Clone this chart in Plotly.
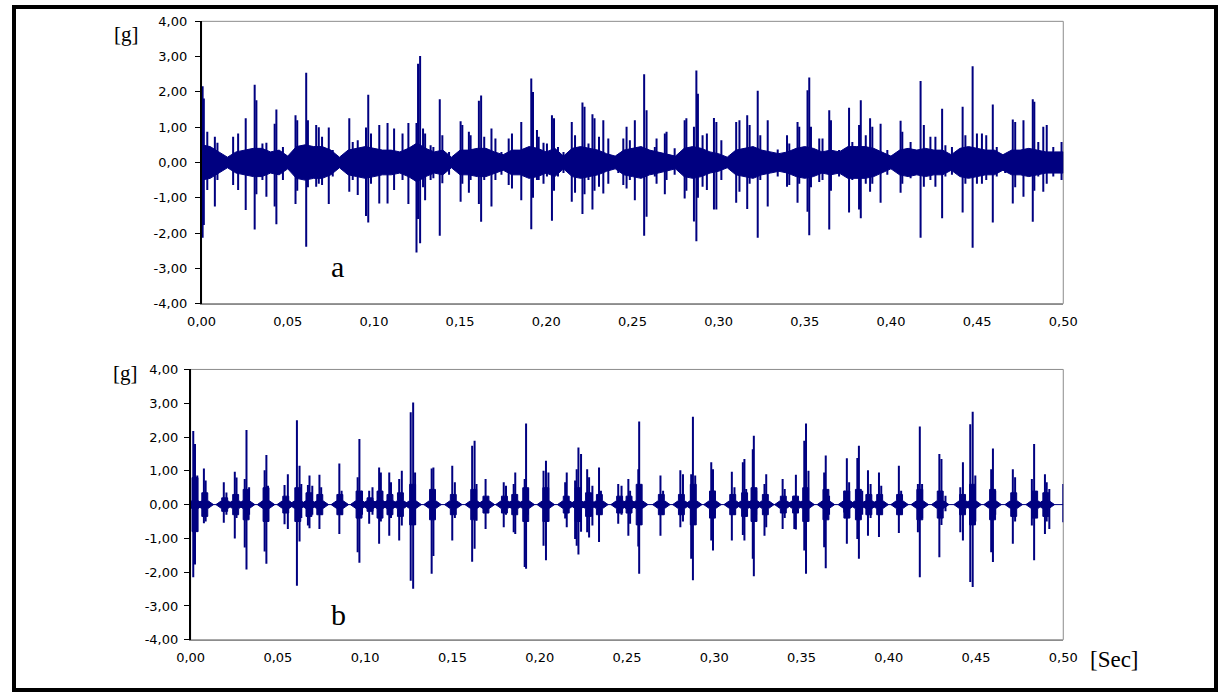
import plotly.graph_objects as go

W, H = 1230, 698
# the capture shows the page shrunk by about 2 % around its centre; positions
# measured on the reference are mapped back through that factor
S, CX, CY = 0.981, 615.0, 349.0

# ---------------- data ----------------
x_ticks = [0.0, 0.05, 0.10, 0.15, 0.20, 0.25, 0.30, 0.35, 0.40, 0.45, 0.50]
x_tick_text = ["0,00", "0,05", "0,10", "0,15", "0,20", "0,25", "0,30", "0,35", "0,40", "0,45", "0,50"]
y_ticks = [-4, -3, -2, -1, 0, 1, 2, 3, 4]
y_tick_text = ["-4,00", "-3,00", "-2,00", "-1,00", "0,00", "1,00", "2,00", "3,00", "4,00"]

# signal a : dense noise envelope (amplitude, g) sampled every 5 ms
a_env_t = [0.000, 0.005, 0.010, 0.015, 0.020, 0.025, 0.030, 0.035, 0.040, 0.045,
           0.050, 0.055, 0.060, 0.065, 0.070, 0.075, 0.080, 0.085, 0.090, 0.095,
           0.100, 0.105, 0.110, 0.115, 0.120, 0.125, 0.130, 0.135, 0.140, 0.145,
           0.150, 0.155, 0.160, 0.165, 0.170, 0.175, 0.180, 0.185, 0.190, 0.195,
           0.200, 0.205, 0.210, 0.215, 0.220, 0.225, 0.230, 0.235, 0.240, 0.245,
           0.250, 0.255, 0.260, 0.265, 0.270, 0.275, 0.280, 0.285, 0.290, 0.295,
           0.300, 0.305, 0.310, 0.315, 0.320, 0.325, 0.330, 0.335, 0.340, 0.345,
           0.350, 0.355, 0.360, 0.365, 0.370, 0.375, 0.380, 0.385, 0.390, 0.395,
           0.400, 0.405, 0.410, 0.415, 0.420, 0.425, 0.430, 0.435, 0.440, 0.445,
           0.450, 0.455, 0.460, 0.465, 0.470, 0.475, 0.480, 0.485, 0.490, 0.495, 0.500]
a_env_amp = [0.50, 0.45, 0.30, 0.15, 0.30, 0.35, 0.40, 0.40, 0.30, 0.35,
             0.18, 0.45, 0.50, 0.45, 0.45, 0.35, 0.15, 0.35, 0.40, 0.45,
             0.40, 0.35, 0.35, 0.30, 0.40, 0.55, 0.40, 0.30, 0.35, 0.15,
             0.35, 0.35, 0.40, 0.40, 0.30, 0.22, 0.35, 0.35, 0.45, 0.40,
             0.30, 0.40, 0.18, 0.40, 0.45, 0.40, 0.35, 0.25, 0.18, 0.35,
             0.40, 0.45, 0.35, 0.30, 0.25, 0.18, 0.40, 0.45, 0.40, 0.30,
             0.25, 0.15, 0.35, 0.40, 0.45, 0.35, 0.30, 0.25, 0.30, 0.40,
             0.45, 0.40, 0.30, 0.35, 0.30, 0.45, 0.45, 0.45, 0.40, 0.30,
             0.18, 0.35, 0.40, 0.35, 0.40, 0.35, 0.35, 0.22, 0.40, 0.45,
             0.40, 0.35, 0.35, 0.22, 0.35, 0.35, 0.40, 0.35, 0.30, 0.30, 0.30]

# signal a : individual spikes (time s, positive peak g, negative peak g)
a_spike_t = [0.0006, 0.0013, 0.0033, 0.0077, 0.0092, 0.0183, 0.0212, 0.0256, 0.0308, 0.0318,
             0.0353, 0.0376, 0.0424, 0.0434, 0.0472, 0.0545, 0.0555, 0.0607, 0.0617, 0.0665,
             0.0680, 0.0699, 0.0738, 0.0761, 0.0857, 0.0877, 0.0906, 0.0925, 0.0954, 0.0967,
             0.0983, 0.1031, 0.1079, 0.1117, 0.1166, 0.1200, 0.1247, 0.1256, 0.1268, 0.1285,
             0.1297, 0.1329, 0.1345, 0.1382, 0.1397, 0.1436, 0.1503, 0.1513, 0.1551, 0.1561,
             0.1609, 0.1622, 0.1640, 0.1682, 0.1705, 0.1740, 0.1782, 0.1801, 0.1830, 0.1855,
             0.1913, 0.1923, 0.1946, 0.1956, 0.1984, 0.2004, 0.2033, 0.2045, 0.2068, 0.2100,
             0.2148, 0.2167, 0.2210, 0.2222, 0.2245, 0.2268, 0.2280, 0.2306, 0.2331, 0.2360,
             0.2418, 0.2447, 0.2466, 0.2485, 0.2514, 0.2568, 0.2582, 0.2630, 0.2640, 0.2688,
             0.2698, 0.2745, 0.2803, 0.2813, 0.2857, 0.2871, 0.2880, 0.2907, 0.2932, 0.2973,
             0.2987, 0.3016, 0.3102, 0.3121, 0.3166, 0.3180, 0.3227, 0.3242, 0.3285, 0.3343,
             0.3397, 0.3410, 0.3458, 0.3468, 0.3516, 0.3526, 0.3536, 0.3584, 0.3603, 0.3642,
             0.3652, 0.3699, 0.3757, 0.3776, 0.3815, 0.3825, 0.3854, 0.3879, 0.3892, 0.3940,
             0.3979, 0.4056, 0.4066, 0.4114, 0.4172, 0.4191, 0.4229, 0.4258, 0.4297, 0.4316,
             0.4354, 0.4416, 0.4432, 0.4474, 0.4499, 0.4528, 0.4553, 0.4591, 0.4614, 0.4663,
             0.4707, 0.4721, 0.4769, 0.4823, 0.4832, 0.4855, 0.4884, 0.4904, 0.4942, 0.4990]
a_spike_hi = [2.16, 1.81, 0.87, 0.73, 0.56, 0.73, 0.82, 1.25, 2.20, 1.76,
              0.54, 0.56, 1.10, 1.50, 0.44, 1.34, 1.20, 2.54, 1.20, 1.06,
              1.00, 0.73, 0.99, 0.35, 1.25, 0.58, 0.63, 0.35, 0.99, 1.92,
              0.82, 1.06, 1.12, 0.96, 0.82, 1.12, 1.12, 2.80, 3.02, 0.96,
              0.82, 0.49, 0.44, 1.79, 0.77, 0.30, 1.17, 1.06, 0.87, 0.77,
              1.75, 1.90, 0.73, 0.96, 0.68, 0.30, 0.68, 0.82, 0.25, 1.15,
              2.38, 2.00, 0.92, 0.73, 0.56, 0.54, 1.34, 1.25, 0.44, 0.30,
              1.15, 0.77, 1.70, 1.58, 0.54, 1.37, 1.25, 0.73, 1.20, 0.68,
              0.20, 0.68, 1.01, 0.63, 1.20, 2.50, 1.48, 0.44, 0.68, 0.82,
              0.87, 0.40, 1.20, 1.25, 1.01, 2.61, 1.95, 0.77, 0.82, 1.26,
              1.15, 0.63, 1.15, 1.20, 1.34, 1.06, 2.03, 0.77, 1.20, 0.37,
              0.77, 0.54, 1.15, 1.01, 2.05, 2.41, 1.01, 0.68, 0.68, 1.48,
              1.20, 0.35, 1.55, 0.58, 1.06, 1.76, 0.77, 1.25, 1.01, 1.10,
              0.35, 1.18, 0.87, 0.58, 2.31, 1.06, 0.73, 0.73, 1.52, 0.49,
              0.44, 1.58, 0.77, 2.73, 0.82, 0.82, 0.77, 1.64, 0.44, 0.20,
              1.22, 1.15, 1.20, 1.79, 1.72, 0.58, 1.01, 1.06, 0.44, 0.58]
a_spike_lo = [-2.13, -1.77, -0.78, -1.25, -0.50, -0.64, -0.78, -1.35, -1.90, -0.90,
              -0.50, -0.97, -1.25, -1.75, -0.50, -1.18, -0.80, -2.39, -0.70, -0.69,
              -0.60, -0.64, -1.18, -0.40, -0.83, -0.50, -0.92, -0.40, -1.52, -1.70,
              -0.60, -1.16, -1.16, -0.78, -0.50, -1.18, -2.55, -1.60, -2.29, -0.70,
              -1.07, -0.50, -0.45, -2.08, -0.59, -0.35, -1.11, -0.60, -0.86, -0.50,
              -1.18, -1.68, -0.50, -1.25, -0.50, -0.35, -0.64, -0.74, -0.30, -1.07,
              -1.89, -1.00, -0.50, -0.50, -0.60, -0.40, -1.65, -0.80, -0.40, -0.30,
              -1.11, -0.86, -1.46, -0.90, -0.50, -1.33, -0.80, -0.69, -0.88, -0.60,
              -0.30, -0.64, -0.74, -0.50, -1.07, -2.08, -1.54, -0.40, -0.60, -0.90,
              -0.50, -0.35, -1.02, -0.80, -1.67, -2.23, -1.00, -0.69, -0.78, -1.33,
              -1.33, -0.50, -1.14, -0.83, -1.32, -0.60, -2.13, -0.50, -1.25, -0.40,
              -0.69, -0.64, -1.14, -0.60, -1.40, -2.06, -0.70, -0.55, -0.50, -1.90,
              -0.80, -0.40, -1.42, -0.50, -1.33, -1.58, -0.60, -0.83, -0.60, -1.14,
              -0.35, -0.86, -0.60, -0.45, -2.13, -0.69, -0.50, -0.69, -1.58, -0.40,
              -0.35, -1.42, -0.60, -2.42, -0.60, -0.60, -0.50, -1.70, -0.40, -0.30,
              -1.16, -0.70, -0.97, -1.68, -0.80, -0.40, -0.83, -0.60, -0.40, -0.50]

# signal b : burst centres and amplitude of each burst's dense core (g)
b_burst_t = [0.0025, 0.0081, 0.0195, 0.0258, 0.0318, 0.0432, 0.0545, 0.0614, 0.0678, 0.0740,
             0.0855, 0.0965, 0.1028, 0.1085, 0.1142, 0.1202, 0.1272, 0.1386, 0.1505, 0.1622,
             0.1692, 0.1798, 0.1857, 0.1920, 0.2035, 0.2152, 0.2220, 0.2280, 0.2342, 0.2458,
             0.2512, 0.2570, 0.2697, 0.2812, 0.2880, 0.2990, 0.3106, 0.3174, 0.3228, 0.3293,
             0.3396, 0.3466, 0.3524, 0.3640, 0.3760, 0.3826, 0.3886, 0.3948, 0.4062, 0.4178,
             0.4295, 0.4423, 0.4480, 0.4595, 0.4716, 0.4836, 0.4900]
b_burst_amp = [0.80, 0.35, 0.20, 0.30, 0.45, 0.50, 0.25, 0.50, 0.35, 0.30,
               0.30, 0.40, 0.20, 0.40, 0.30, 0.35, 0.60, 0.45, 0.30, 0.45,
               0.25, 0.25, 0.30, 0.50, 0.50, 0.25, 0.50, 0.35, 0.30, 0.25,
               0.25, 0.60, 0.30, 0.30, 0.60, 0.40, 0.30, 0.35, 0.50, 0.30,
               0.25, 0.25, 0.50, 0.45, 0.40, 0.45, 0.30, 0.30, 0.30, 0.45,
               0.40, 0.30, 0.60, 0.45, 0.35, 0.40, 0.35]

# signal b : individual spikes (time s, positive peak g, negative peak g)
b_spike_t = [0.0015, 0.0025, 0.0038, 0.0076, 0.0086, 0.0190, 0.0205, 0.0253, 0.0263, 0.0310,
             0.0320, 0.0335, 0.0424, 0.0434, 0.0443, 0.0538, 0.0557, 0.0609, 0.0624, 0.0634,
             0.0672, 0.0681, 0.0697, 0.0738, 0.0748, 0.0852, 0.0865, 0.0957, 0.0967, 0.0982,
             0.1023, 0.1042, 0.1080, 0.1090, 0.1138, 0.1148, 0.1195, 0.1210, 0.1261, 0.1275,
             0.1286, 0.1381, 0.1391, 0.1499, 0.1514, 0.1613, 0.1627, 0.1638, 0.1690, 0.1794,
             0.1807, 0.1851, 0.1860, 0.1914, 0.1922, 0.1933, 0.2022, 0.2036, 0.2050, 0.2146,
             0.2155, 0.2203, 0.2212, 0.2222, 0.2237, 0.2272, 0.2283, 0.2302, 0.2340, 0.2351,
             0.2450, 0.2469, 0.2508, 0.2518, 0.2565, 0.2570, 0.2580, 0.2692, 0.2707, 0.2806,
             0.2821, 0.2868, 0.2878, 0.2891, 0.2983, 0.2993, 0.3003, 0.3101, 0.3116, 0.3164,
             0.3173, 0.3183, 0.3221, 0.3227, 0.3240, 0.3288, 0.3298, 0.3392, 0.3404, 0.3459,
             0.3468, 0.3516, 0.3526, 0.3540, 0.3630, 0.3639, 0.3658, 0.3745, 0.3760, 0.3773,
             0.3820, 0.3829, 0.3848, 0.3881, 0.3896, 0.3944, 0.3957, 0.4058, 0.4071, 0.4167,
             0.4178, 0.4191, 0.4290, 0.4302, 0.4325, 0.4410, 0.4425, 0.4467, 0.4481, 0.4496,
             0.4587, 0.4597, 0.4610, 0.4711, 0.4724, 0.4820, 0.4833, 0.4845, 0.4895, 0.4905,
             0.4920, 0.5000]
b_spike_hi = [2.18, 1.79, 0.86, 1.07, 0.71, 0.66, 0.36, 0.97, 0.80, 0.76,
              2.21, 0.51, 1.02, 1.47, 0.56, 0.58, 0.90, 2.50, 1.15, 0.61,
              0.58, 0.86, 0.56, 0.88, 0.51, 1.22, 0.41, 0.81, 1.94, 0.41,
              0.41, 0.51, 1.10, 0.95, 0.95, 0.66, 0.76, 1.00, 2.73, 3.02,
              0.95, 1.07, 1.10, 1.15, 0.66, 1.74, 1.89, 0.61, 0.76, 0.66,
              0.56, 0.61, 0.95, 0.76, 2.40, 0.46, 1.00, 1.30, 0.95, 0.66,
              0.95, 0.71, 1.05, 1.69, 1.50, 1.05, 0.81, 0.56, 1.10, 0.41,
              0.61, 0.56, 0.76, 0.41, 1.05, 2.46, 0.41, 0.86, 0.41, 1.02,
              0.90, 0.90, 2.60, 0.86, 1.25, 1.05, 0.41, 0.97, 0.51, 1.25,
              1.35, 0.46, 1.64, 2.04, 0.41, 0.61, 0.90, 0.76, 0.46, 0.26,
              0.88, 1.89, 2.40, 1.00, 0.95, 1.45, 0.26, 0.41, 1.37, 0.66,
              1.38, 1.74, 0.41, 1.02, 0.61, 0.95, 0.56, 1.15, 0.41, 0.61,
              2.31, 0.61, 1.50, 1.35, 0.26, 0.51, 1.25, 2.38, 2.75, 0.86,
              1.05, 1.66, 0.41, 1.05, 0.81, 0.76, 1.79, 0.36, 0.90, 0.66,
              0.46, 0.61]
b_spike_lo = [-2.15, -1.77, -0.81, -0.55, -0.50, -0.54, -0.30, -1.00, -0.40, -1.27,
              -1.92, -0.30, -1.39, -1.75, -0.40, -0.58, -0.72, -2.40, -1.09, -0.40,
              -0.62, -0.70, -0.30, -0.72, -0.30, -0.87, -0.30, -1.41, -1.72, -0.30,
              -0.57, -0.30, -1.16, -0.50, -0.92, -0.40, -1.06, -0.62, -2.25, -2.49,
              -0.60, -2.05, -1.52, -1.06, -0.40, -1.69, -1.31, -0.48, -0.72, -0.67,
              -0.30, -0.82, -0.87, -1.85, -1.90, -0.30, -1.22, -1.65, -0.50, -0.41,
              -0.67, -1.02, -1.22, -1.48, -0.80, -0.82, -0.97, -0.62, -1.11, -0.30,
              -0.57, -0.30, -0.92, -0.57, -1.24, -2.05, -0.30, -0.92, -0.30, -0.67,
              -0.50, -1.60, -2.24, -0.50, -1.06, -1.36, -0.30, -1.06, -0.30, -0.90,
              -1.06, -0.30, -1.60, -2.12, -0.30, -0.92, -0.67, -0.72, -0.40, -0.72,
              -0.74, -1.36, -2.05, -0.50, -1.26, -1.88, -0.30, -0.23, -1.16, -0.40,
              -1.02, -1.60, -0.30, -0.92, -0.40, -0.96, -0.30, -0.84, -0.30, -0.82,
              -2.15, -0.40, -1.56, -0.60, -0.20, -0.82, -1.06, -2.29, -2.44, -0.50,
              -1.41, -1.70, -0.30, -1.16, -0.50, -0.62, -1.65, -0.30, -0.87, -0.50,
              -0.72, -0.52]

# ---------------- styling constants ----------------
NAVY = "#000080"
TICK_FONT = dict(family="DejaVu Sans, Verdana, sans-serif", size=13, color="#000000")
SERIF = "Liberation Serif, Times New Roman, serif"
CORE_OUT = 0.0050   # half-width of the low tail of a burst core, s
CORE_IN = 0.0017    # half-width of the tall part of a burst core, s
CORE_TAIL = 0.12    # height of the low tail, g


def fx(r):
    """reference pixel column -> paper fraction"""
    return (CX + (r - CX) / S) / W


def fy(r):
    """reference pixel row -> paper fraction"""
    return 1 - (CY + (r - CY) / S) / H


def segments(ts, his, los):
    xs, ys = [], []
    for t, hi, lo in zip(ts, his, los):
        xs += [t, t, None]
        ys += [lo, hi, None]
    return xs, ys


fig = go.Figure()

# ---- signal a ----
band_x = a_env_t + a_env_t[::-1]
band_y = a_env_amp + [-v for v in a_env_amp[::-1]]
fig.add_trace(go.Scatter(x=band_x, y=band_y, fill="toself", fillcolor=NAVY,
                         line=dict(color=NAVY, width=1), mode="lines",
                         hoverinfo="skip", showlegend=False, xaxis="x", yaxis="y"))
sx, sy = segments(a_spike_t, a_spike_hi, a_spike_lo)
fig.add_trace(go.Scatter(x=sx, y=sy, mode="lines", line=dict(color=NAVY, width=2),
                         showlegend=False, xaxis="x", yaxis="y"))

# ---- signal b ----
fig.add_trace(go.Scatter(x=[x_ticks[0], x_ticks[-1]], y=[0, 0], mode="lines",
                         line=dict(color=NAVY, width=1), showlegend=False,
                         xaxis="x2", yaxis="y2"))
cx, cy = [], []
for t, a in zip(b_burst_t, b_burst_amp):
    cx += [t - CORE_OUT, t - CORE_IN, t - CORE_IN, t + CORE_IN, t + CORE_IN, t + CORE_OUT,
           t + CORE_IN, t + CORE_IN, t - CORE_IN, t - CORE_IN, t - CORE_OUT, None]
    cy += [0, CORE_TAIL, a, a, CORE_TAIL, 0, -CORE_TAIL, -a, -a, -CORE_TAIL, 0, None]
fig.add_trace(go.Scatter(x=cx, y=cy, mode="lines", fill="toself", fillcolor=NAVY,
                         line=dict(color=NAVY, width=1), showlegend=False,
                         xaxis="x2", yaxis="y2"))
sx, sy = segments(b_spike_t, b_spike_hi, b_spike_lo)
fig.add_trace(go.Scatter(x=sx, y=sy, mode="lines", line=dict(color=NAVY, width=2),
                         showlegend=False, xaxis="x2", yaxis="y2"))


def xaxis(domain, anchor):
    return dict(domain=domain, anchor=anchor, range=[0, 0.5], tickvals=x_ticks,
                ticktext=x_tick_text, tickfont=TICK_FONT, showgrid=False, zeroline=False,
                showline=True, linecolor="#8c8c8c", linewidth=1, ticks="outside",
                ticklen=6, tickcolor="rgba(0,0,0,0)", fixedrange=True)


def yaxis(domain, anchor, standoff):
    return dict(domain=domain, anchor=anchor, range=[-4, 4], tickvals=y_ticks,
                ticktext=y_tick_text, tickfont=TICK_FONT, showgrid=False, zeroline=False,
                showline=True, linecolor="#000000", linewidth=1.5, ticks="outside",
                ticklen=5, tickcolor="#000000", tickwidth=1, ticklabelstandoff=standoff,
                fixedrange=True)


def label(text, rx, ry, size):
    return dict(text=text, x=fx(rx), y=fy(ry), xref="paper", yref="paper",
                xanchor="center", yanchor="middle", showarrow=False,
                font=dict(family=SERIF, size=size, color="black"))


fig.update_layout(
    width=W, height=H, margin=dict(l=0, r=0, t=0, b=0),
    paper_bgcolor="white", plot_bgcolor="white", showlegend=False,
    xaxis=xaxis([fx(200), fx(1065)], "y"),
    yaxis=yaxis([fy(304), fy(21)], "x", 5),
    xaxis2=xaxis([fx(189), fx(1065)], "y2"),
    yaxis2=yaxis([fy(641), fy(370)], "x2", 3),
    shapes=[
        dict(type="rect", xref="x domain", yref="y domain", x0=0, x1=1, y0=0, y1=1,
             line=dict(color="#8c8c8c", width=1), layer="below"),
        dict(type="rect", xref="x2 domain", yref="y2 domain", x0=0, x1=1, y0=0, y1=1,
             line=dict(color="#8c8c8c", width=1), layer="below"),
        dict(type="rect", xref="paper", yref="paper", x0=0, x1=1, y0=0, y1=1,
             line=dict(color="#000000", width=4)),
    ],
    annotations=[
        label("[g]", 125, 34, 21),
        label("[g]", 124, 374, 21),
        label("a", 336, 267, 30),
        label("b", 337, 616, 30),
        label("[Sec]", 1116, 661, 23),
    ],
)

fig.write_html("out.html")
